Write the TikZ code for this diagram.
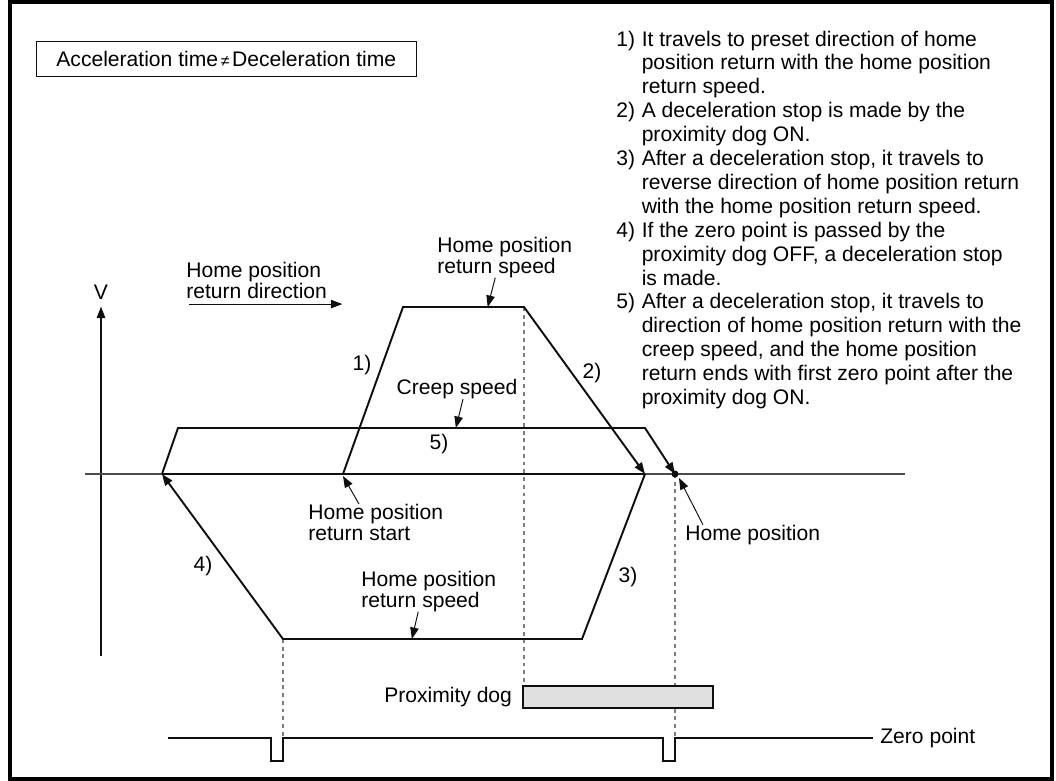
\documentclass[tikz,border=0pt]{standalone}
\usepackage{fontspec}
\setmainfont{Liberation Sans}
\usetikzlibrary{arrows.meta,positioning,calc}
\definecolor{dogfill}{RGB}{224,224,224}
\definecolor{guide}{RGB}{125,125,125}
\definecolor{ink}{RGB}{15,15,15}
\newcommand\lblfont{\fontsize{12}{11.6}\selectfont\setlength\lineskiplimit{-20pt}}
\tikzset{
  >={Triangle[length=2.3mm,width=1.7mm]},
  lbl/.style={font=\lblfont,align=left,inner sep=0pt},
  num/.style={font=\fontsize{12}{14}\selectfont,inner sep=0pt},
  motion/.style={line width=1.1pt,draw=ink},
  pointer/.style={->,line width=0.55pt,draw=ink},
  guideline/.style={draw=guide,line width=0.6pt,dash pattern=on 2.2pt off 2.2pt},
  signal/.style={line width=0.8pt,draw=ink},
}
\begin{document}
\begin{tikzpicture}[x=0.02cm,y=-0.02cm]
  \useasboundingbox (0,0) rectangle (1056,781);
  \draw[line width=2.3pt] (10,2) rectangle (1052,779);
  \node[draw=ink,line width=0.5pt,anchor=north west,minimum height=0.7cm,inner xsep=4mm,
    font=\fontsize{12}{14}\selectfont] (cond) at (36,41)
    {Acceleration time\kern1.5pt{\fontsize{9}{9}\selectfont ≠}\kern1.5pt Deceleration time};
  % steps
  \node[anchor=north west,inner sep=0pt,font=\fontsize{12}{13.6}\selectfont] (steps) at (616,29) {%
    \begin{tabular}{@{}l@{\hspace{3.8pt}}l@{}}
    1) & It travels to preset direction of home\\
       & position return with the home position\\
       & return speed.\\
    2) & A deceleration stop is made by the\\
       & proximity dog ON.\\
    3) & After a deceleration stop, it travels to\\
       & reverse direction of home position return\\
       & with the home position return speed.\\
    4) & If the zero point is passed by the\\
       & proximity dog OFF, a deceleration stop\\
       & is made.\\
    5) & After a deceleration stop, it travels to\\
       & direction of home position return with the\\
       & creep speed, and the home position\\
       & return ends with first zero point after the\\
       & proximity dog ON.
    \end{tabular}};
  % axes
  \coordinate (vbot) at (101,656);
  \coordinate (zl) at (85,474);
  \coordinate (zr) at (905,474);
  \node[lbl] (vlbl) at (101,292) {V};
  \draw[line width=0.8pt,draw=ink,->] (vbot) -- ([yshift=-1.4mm]vlbl.south);
  \draw[line width=0.6pt,draw=black!70] (zl) -- (zr);
  % motion points
  \coordinate (start) at (343,474);
  \coordinate (hiL) at (403,307);
  \coordinate (hiR) at (524,307);
  \coordinate (stop1) at (645,474);
  \coordinate (loR) at (582,639);
  \coordinate (loL) at (283,639);
  \coordinate (stop2) at (162,474);
  \coordinate (crL) at (178,428);
  \coordinate (crR) at (645,428);
  \coordinate (home) at (675,474);
  \coordinate (zstart) at (168,738);
  % proximity dog and zero point
  \node[draw=ink,line width=0.8pt,fill=dogfill,minimum width=3.8cm,minimum height=0.44cm,inner sep=0pt] (dog) at (618,697) {};
  \node[lbl,left=2mm of dog] (doglbl) {Proximity dog};
  \node[lbl,anchor=west] (zerolbl) at (880,738) {Zero point};
  \draw[guideline] (loL) -- (loL |- zstart);
  \draw[guideline] (hiR) -- (hiR |- dog.north);
  \draw[guideline] (home) -- (home |- dog.north);
  \draw[guideline] (home |- dog.south) -- (home |- zstart);
  \draw[signal] (zstart) -- (271,738) -- (271,761) -- (283,761) -- (283,738) -- (663,738)
    -- (663,761) -- (675,761) -- (675,738) -- ([xshift=-1.4mm]zerolbl.west);
  % travel
  \draw[motion] (stop2) -- (stop1);
  \draw[motion,->] (start) -- (hiL) -- (hiR) -- (stop1);
  \draw[motion,->] (stop1) -- (loR) -- (loL) -- (stop2);
  \draw[motion,->] (stop2) -- (crL) -- (crR) -- (home);
  \fill[ink] (home) circle (2pt);
  \node[num] (n1) at (362,365) {1)};
  \node[num] (n2) at (592,373) {2)};
  \node[num] (n3) at (628,577) {3)};
  \node[num] (n4) at (203,566) {4)};
  \node[num] (n5) at (439,444) {5)};
  % labels
  \node[lbl,anchor=north west] (dirlbl) at (186,262) {Home position\\return direction};
  \draw[pointer] ([xshift=0.6mm,yshift=-1.1mm]dirlbl.south west) -- ([xshift=3mm,yshift=-1.1mm]dirlbl.south east);
  \node[lbl,anchor=north west] (topspd) at (437,237) {Home position\\return speed};
  \draw[pointer] ([xshift=-1.9mm]topspd.south) -- ($(hiL)!0.7!(hiR)$);
  \node[lbl] (creep) at (457,389) {Creep speed};
  \draw[pointer] ([xshift=1.2mm]creep.south) -- ($(crL)!0.595!(crR)$);
  \node[lbl,anchor=north west] (startlbl) at (308,504) {Home position\\return start};
  \draw[pointer] ([xshift=10.2mm]startlbl.north west) -- ([yshift=-0.4mm]start);
  \node[lbl,anchor=north west] (lowspd) at (361,571) {Home position\\return speed};
  \draw[pointer] ([xshift=-2.1mm]lowspd.south) -- ($(loL)!0.431!(loR)$);
  \node[lbl,anchor=west] (homelbl) at (685,535) {Home position};
  \draw[pointer] ([xshift=3.6mm]homelbl.north west) -- ([xshift=0.8mm,yshift=-0.8mm]home);
\end{tikzpicture}
\end{document}
